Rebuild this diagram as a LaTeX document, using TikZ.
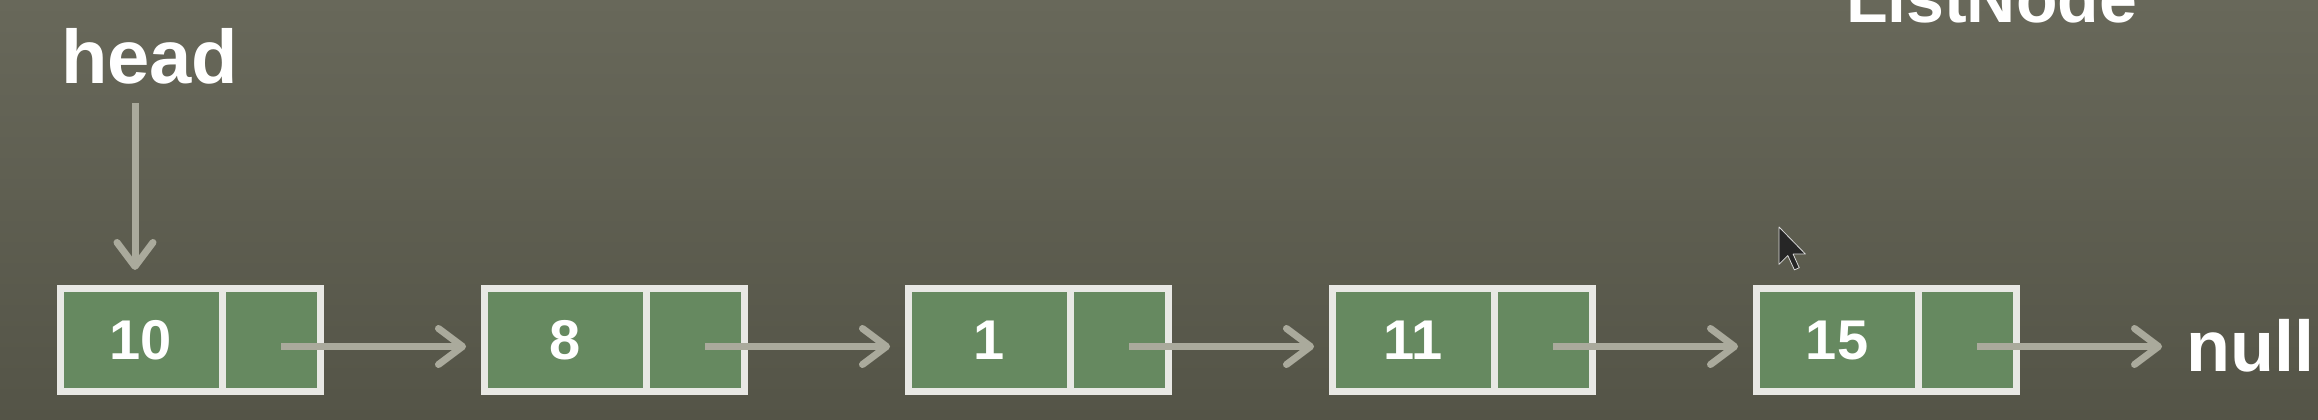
\documentclass[tikz,border=0pt]{standalone}
\usepackage{fontspec}
\setmainfont{Liberation Sans}
\usetikzlibrary{arrows.meta}
\definecolor{bgtop}{RGB}{104,104,90}
\definecolor{bgbot}{RGB}{84,84,71}
\definecolor{cellgreen}{RGB}{102,137,96}
\definecolor{cellborder}{RGB}{232,232,228}
\definecolor{linkgray}{RGB}{170,170,156}
\begin{document}
\begin{tikzpicture}[x=1pt,y=1pt,
  cellbase/.style={rectangle, minimum height=103pt, inner sep=0pt, outer sep=0pt,
    fill=cellgreen, draw=cellborder, line width=7pt},
  valcell/.style={cellbase, minimum width=162pt, text=white,
    font=\fontsize{56}{56}\selectfont\bfseries},
  ptrcell/.style={cellbase, minimum width=98pt},
  link/.style={draw=linkgray, line width=7pt, -{Straight Barb[length=24pt,width=36pt,round]}},
  biglabel/.style={text=white, inner sep=0pt, outer sep=0pt,
    font=\fontsize{76}{76}\selectfont\bfseries}]
\shade[top color=bgtop,bottom color=bgbot] (0,0) rectangle (2318,420);
\useasboundingbox (0,0) rectangle (2318,420);

% list nodes
\foreach \v [count=\i from 0] in {10,8,1,11,15}{
  \node[valcell] (v\i) at (141+424*\i,79.5) {\v};
  \node[ptrcell] (p\i) at (271+424*\i,79.5) {};
  \coordinate (s\i) at ([shift={(10pt,-6pt)}]p\i.center);
}

% labels
\node[biglabel, anchor=base west] (head) at (61,336) {head};
\node[biglabel, anchor=base west, font=\fontsize{72}{72}\selectfont\bfseries] (null) at (2186,48) {null};
\node[biglabel, anchor=base west, font=\fontsize{68}{68}\selectfont\bfseries] (title) at (1846,397) {ListNode};

% head pointer
\coordinate (ha) at (135,317);
\draw[link, shorten >=19pt] (ha) -- (ha |- v0.north);

% links
\foreach \i/\j in {0/1,1/2,2/3,3/4}{
  \draw[link, shorten >=18pt] (s\i) -- (s\i -| v\j.west);
}
\draw[link, shorten >=24pt] (s4) -- (s4 -| null.west);

% mouse cursor
\begin{scope}[shift={(1779,193)}, scale=2.2]
  \fill[black!85, draw=white!70!gray, line width=0.8pt, line join=round]
    (0,0) -- (0,-17) -- (4,-13) -- (7,-19.5) -- (9.2,-18.5) -- (6.4,-12.3) -- (12,-12.3) -- cycle;
\end{scope}
\end{tikzpicture}
\end{document}
